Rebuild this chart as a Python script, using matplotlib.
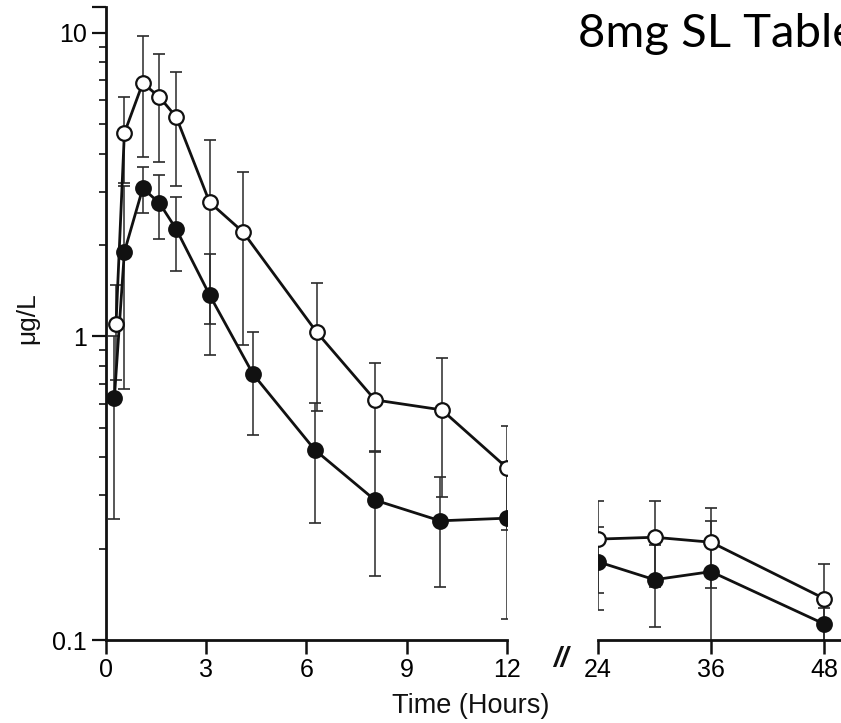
import matplotlib
matplotlib.use("Agg")
import matplotlib.pyplot as plt
from matplotlib.ticker import FixedLocator, NullFormatter

# ---- data ----
# early phase (hours 0-12)
open_t = [0.3, 0.55, 1.1, 1.6, 2.1, 3.1, 4.1, 6.3, 8.05, 10.05, 12.0]
open_y = [1.1, 4.68, 6.84, 6.15, 5.29, 2.77, 2.21, 1.035, 0.618, 0.573, 0.369]
open_sd = [0.38, 1.47, 2.95, 2.4, 2.15, 1.67, 1.27, 0.465, 0.2, 0.276, 0.138]

filled_t = [0.25, 0.55, 1.1, 1.6, 2.1, 3.1, 4.4, 6.25, 8.05, 10.0, 12.0]
filled_y = [0.627, 1.90, 3.08, 2.75, 2.26, 1.37, 0.752, 0.423, 0.289, 0.247, 0.252]
filled_sd = [0.377, 1.23, 0.53, 0.65, 0.62, 0.5, 0.28, 0.18, 0.126, 0.097, 0.135]

# late phase (hours 24-48)
late_t = [24, 30, 36, 48]
open_late_y = [0.215, 0.218, 0.210, 0.137]
open_late_sd = [0.072, 0.069, 0.062, 0.041]
filled_late_y = [0.181, 0.158, 0.168, 0.113]
filled_late_sd = [0.055, 0.048, 0.078, 0.014]

left_xticks = [0, 3, 6, 9, 12]
right_xticks = [24, 36, 48]
y_major = [0.1, 1, 10]
y_major_labels = ["0.1", "1", "10"]

title_text = "8mg SL Tablet"
x_label = "Time (Hours)"
y_label = "\u03bcg/L"

# ---- figure ----
W, H = 841, 723
fig = plt.figure(figsize=(W / 100, H / 100), dpi=100)
plt.rcParams['font.family'] = ['Liberation Sans', 'DejaVu Sans']

ymin, ymax = 0.1, 12.18
bottom = (H - 640) / H
height = (640 - 7) / H
axL = fig.add_axes([106 / W, bottom, 401 / W, height])
axR = fig.add_axes([598 / W, bottom, 243 / W, height])

ink = "#111111"
ebc = "#2a2a2a"
err_kw = dict(fmt="none", ecolor=ebc, elinewidth=1.1, capsize=4.3, capthick=1.2, zorder=2)
line_kw = dict(color=ink, lw=2.0, ms=10.5, mew=1.6, zorder=3)

def draw(ax, t_o, y_o, s_o, t_f, y_f, s_f):
    ax.errorbar(t_o, y_o, yerr=s_o, **err_kw)
    ax.errorbar(t_f, y_f, yerr=s_f, **err_kw)
    ax.plot(t_f, y_f, marker="o", mfc=ink, mec=ink, **line_kw)
    ax.plot(t_o, y_o, marker="o", mfc="white", mec=ink, **line_kw)

draw(axL, open_t, open_y, open_sd, filled_t, filled_y, filled_sd)
draw(axR, late_t, open_late_y, open_late_sd, late_t, filled_late_y, filled_late_sd)

for ax in (axL, axR):
    ax.set_yscale("log")
    ax.set_ylim(ymin, ymax)
    ax.spines["top"].set_visible(False)
    ax.spines["right"].set_visible(False)
    ax.spines["bottom"].set_linewidth(2.0)
    ax.spines["bottom"].set_color(ink)
    ax.patch.set_alpha(0)

axL.set_xlim(0, 12)
axR.set_xlim(24, 49.8)

# left y axis
axL.spines["left"].set_linewidth(2.0)
axL.spines["left"].set_color(ink)
axL.yaxis.set_major_locator(FixedLocator(y_major + [ymax]))
axL.set_yticklabels(y_major_labels + [""])
minors = [m * d for d in (0.1, 1) for m in range(2, 10)]
axL.yaxis.set_minor_locator(FixedLocator(minors))
axL.yaxis.set_minor_formatter(NullFormatter())
axL.tick_params(axis="y", which="major", direction="out", length=10, width=1.6,
                labelsize=18, pad=4, color=ink)
axL.tick_params(axis="y", which="minor", direction="out", length=5, width=1.2, color=ink)

axL.set_xticks(left_xticks)
axL.set_xticklabels([str(v) for v in left_xticks])
axL.tick_params(axis="x", direction="out", length=10, width=1.8, labelsize=18, pad=3, color=ink)

# right panel
axR.spines["left"].set_visible(False)
axR.tick_params(axis="y", which="both", left=False, labelleft=False)
axR.set_xticks(right_xticks)
axR.set_xticklabels([str(v) for v in right_xticks])
axR.tick_params(axis="x", direction="out", length=10, width=1.8, labelsize=18, pad=3, color=ink)

# break mark, labels, title
fig.text(561 / W, 1 - 659 / H, "//", fontsize=20, ha="center", va="center",
         style="italic", fontweight="bold", color=ink)
fig.text(471 / W, 1 - 706 / H, x_label, fontsize=19.5, ha="center", va="center", color=ink)
fig.text(27 / W, 1 - 318 / H, y_label, fontsize=19, ha="center", va="center",
         rotation=90, color=ink)
fig.text(578 / W, 1 - 47 / H, title_text, fontsize=34, ha="left", va="baseline",
         family=["Lato", "DejaVu Sans"], color="black")

fig.savefig("out.png", dpi=100)
